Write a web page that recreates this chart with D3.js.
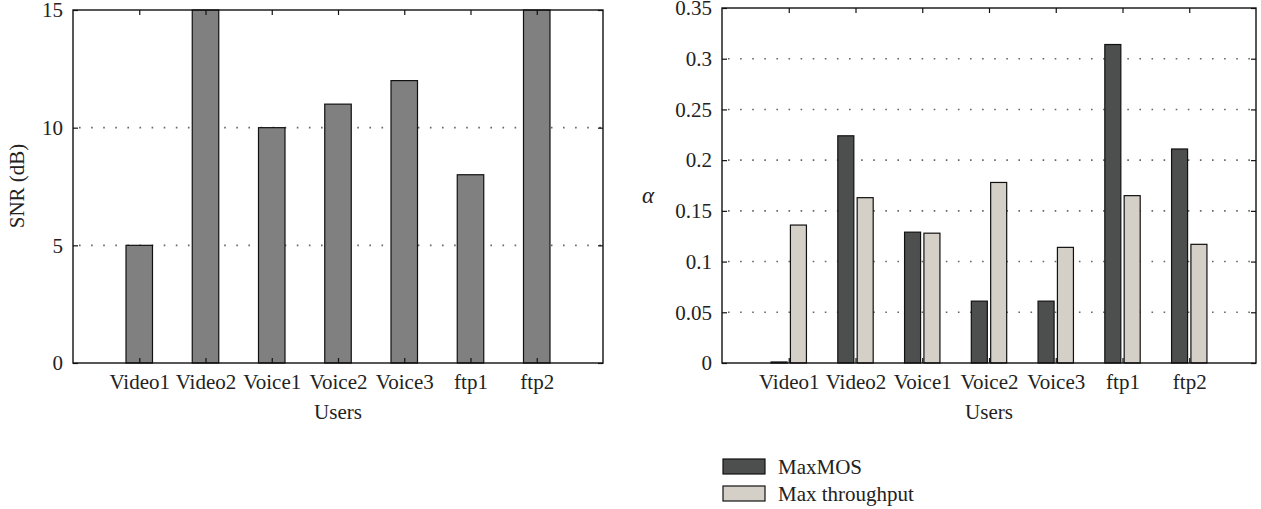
<!DOCTYPE html>
<html>
<head>
<meta charset="utf-8">
<script src="https://cdn.jsdelivr.net/npm/d3@7"></script>
<style>
  html, body { margin: 0; padding: 0; background: #fff; }
  svg { display: block; }
  text { font-family: "Liberation Serif", "Times New Roman", serif; fill: #222; }
</style>
</head>
<body>
<svg id="fig" width="1261" height="509"></svg>
<script>
// Users (shared by both panels)
const users = ["Video1", "Video2", "Voice1", "Voice2", "Voice3", "ftp1", "ftp2"];

// Left panel: SNR per user (dB)
const snr = [5, 15, 10, 11, 12, 8, 15];
const snrTicks = [0, 5, 10, 15];
const snrTickLabels = ["0", "5", "10", "15"];

// Right panel: alpha per user for each scheme
const seriesNames = ["MaxMOS", "Max throughput"];
const alphaMaxMOS = [0.001, 0.224, 0.129, 0.061, 0.061, 0.314, 0.211];
const alphaMaxThroughput = [0.136, 0.163, 0.128, 0.178, 0.114, 0.165, 0.117];
const alphaTicks = [0, 0.05, 0.1, 0.15, 0.2, 0.25, 0.3, 0.35];
const alphaTickLabels = ["0", "0.05", "0.1", "0.15", "0.2", "0.25", "0.3", "0.35"];

const seriesColors = ["#4d4f4e", "#d4d0c8"];
const singleColor = "#808080";
const FONT = 21;

const svg = d3.select("#fig");

// Draws a framed panel with inward ticks on all four sides and dotted grid
function panel(opts) {
  const { x, y, yTicks, yLabels, gridVals } = opts;
  const [x0, x1] = x.range();
  const [y0, y1] = y.range();
  const g = svg.append("g");
  const tickLen = 5;

  // dotted grid
  g.selectAll("line.grid").data(gridVals).join("line")
    .attr("class", "grid")
    .attr("x1", x0 + 6).attr("x2", x1 - 2)
    .attr("y1", d => y(d)).attr("y2", d => y(d))
    .attr("stroke", "#666").attr("stroke-width", 1.6)
    .attr("stroke-dasharray", "1.6,10.5");

  const bars = g.append("g");

  const axes = g.append("g");
  // left axis with labels, ticks pointing inward
  const yAxisL = d3.axisLeft(y).tickValues(yTicks).tickSize(-tickLen)
    .tickPadding(10).tickFormat((d, i) => yLabels[i]);
  axes.append("g").attr("transform", `translate(${x0},0)`).call(yAxisL);
  // right axis, ticks only
  const yAxisR = d3.axisRight(y).tickValues(yTicks).tickSize(-tickLen).tickFormat("");
  axes.append("g").attr("transform", `translate(${x1},0)`).call(yAxisR);
  // bottom axis with category labels
  const cats = users.map((_, i) => i + 1);
  const xAxisB = d3.axisBottom(x).tickValues(cats).tickSize(-tickLen)
    .tickPadding(11).tickFormat((d, i) => users[i]);
  axes.append("g").attr("transform", `translate(0,${y0})`).call(xAxisB);
  // top axis, ticks only
  const xAxisT = d3.axisTop(x).tickValues(cats).tickSize(-tickLen).tickFormat("");
  axes.append("g").attr("transform", `translate(0,${y1})`).call(xAxisT);

  axes.selectAll(".domain").remove();
  axes.selectAll("line").attr("stroke", "#111").attr("stroke-width", 1.2);
  axes.selectAll("text").attr("font-size", FONT).attr("fill", "#222")
    .attr("font-family", "Liberation Serif, Times New Roman, serif");

  // frame
  g.append("rect").attr("x", x0).attr("y", y1)
    .attr("width", x1 - x0).attr("height", y0 - y1)
    .attr("fill", "none").attr("stroke", "#111").attr("stroke-width", 1.4);

  // x title
  g.append("text").attr("x", (x0 + x1) / 2).attr("y", y0 + 56)
    .attr("text-anchor", "middle").attr("font-size", FONT).text("Users");
  return bars;
}

// ---- Left panel ----
const xL = d3.scaleLinear().domain([0, 8]).range([73, 603]);
const yL = d3.scaleLinear().domain([0, 15]).range([363, 10]);
const barsL = panel({ x: xL, y: yL, yTicks: snrTicks, yLabels: snrTickLabels, gridVals: [5, 10] });
const wL = 0.4;
barsL.selectAll("rect").data(snr).join("rect")
  .attr("x", (d, i) => xL(i + 1 - wL / 2))
  .attr("width", xL(wL) - xL(0))
  .attr("y", d => yL(d))
  .attr("height", d => yL(0) - yL(d))
  .attr("fill", singleColor).attr("stroke", "#111").attr("stroke-width", 1.2);

svg.append("text")
  .attr("transform", `translate(24,186) rotate(-90)`)
  .attr("text-anchor", "middle").attr("font-size", FONT).text("SNR (dB)");

// ---- Right panel ----
const xR = d3.scaleLinear().domain([0, 8]).range([722, 1256]);
const yR = d3.scaleLinear().domain([0, 0.35]).range([363, 8]);
const barsR = panel({ x: xR, y: yR, yTicks: alphaTicks, yLabels: alphaTickLabels,
  gridVals: [0.05, 0.1, 0.15, 0.2, 0.25, 0.3] });

const groups = [alphaMaxMOS, alphaMaxThroughput];
const offs = [[-0.265, -0.025], [0.025, 0.265]];
groups.forEach((vals, s) => {
  barsR.append("g").selectAll("rect").data(vals).join("rect")
    .attr("x", (d, i) => xR(i + 1 + offs[s][0]))
    .attr("width", (d, i) => xR(i + 1 + offs[s][1]) - xR(i + 1 + offs[s][0]))
    .attr("y", d => yR(d))
    .attr("height", d => yR(0) - yR(d))
    .attr("fill", seriesColors[s]).attr("stroke", "#111").attr("stroke-width", 1.2);
});

svg.append("text").attr("x", 648).attr("y", 203)
  .attr("text-anchor", "middle").attr("font-size", 23).attr("font-style", "italic")
  .text("α");

// legend
const leg = svg.append("g").attr("transform", "translate(723,459)");
seriesNames.forEach((name, s) => {
  const row = leg.append("g").attr("transform", `translate(0,${s * 27})`);
  row.append("rect").attr("width", 42).attr("height", 15)
    .attr("fill", seriesColors[s]).attr("stroke", "#111").attr("stroke-width", 1.2);
  row.append("text").attr("x", 55).attr("y", 15).attr("font-size", FONT).text(name);
});
</script>
</body>
</html>
